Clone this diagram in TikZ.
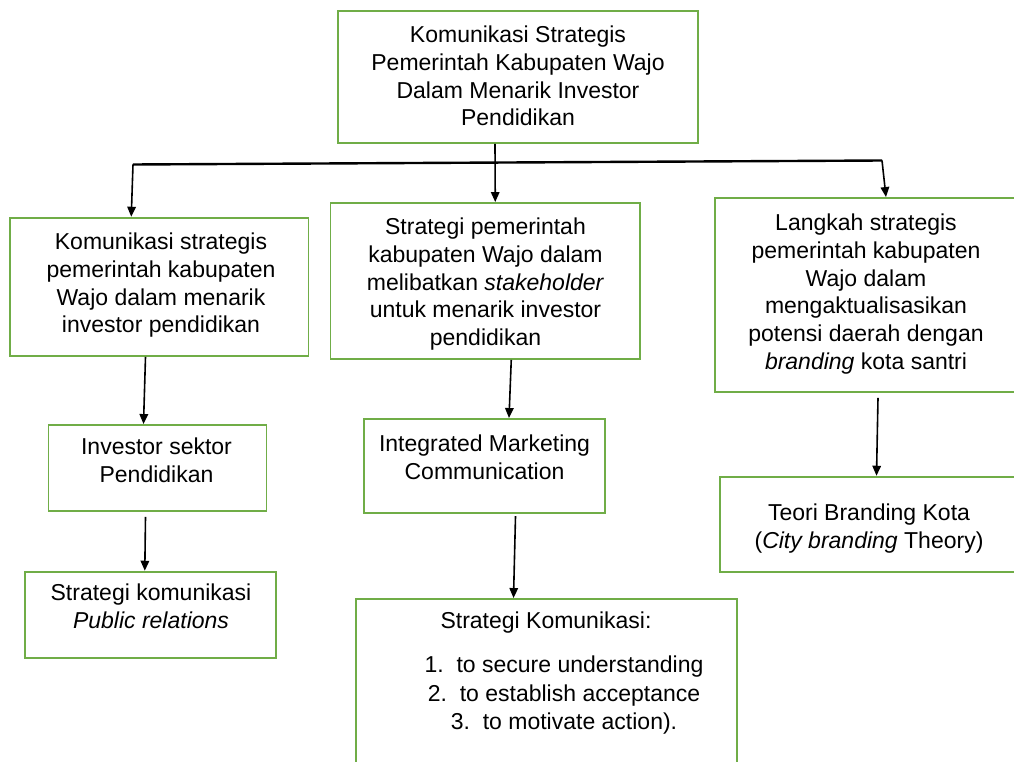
\documentclass[tikz,border=0pt]{standalone}
\usepackage{fontspec}
\setmainfont{Liberation Sans}
\usetikzlibrary{arrows.meta}
\definecolor{boxgreen}{RGB}{112,173,71}
\begin{document}
\begin{tikzpicture}[x=1pt,y=-1pt,
  box/.style={draw=boxgreen, line width=1.9pt, inner sep=0pt, rectangle},
  txt/.style={align=center, anchor=north, inner sep=0pt, font=\fontsize{23}{27.7}\selectfont},
  arr/.style={line width=1.6pt, -{Triangle[length=10pt,width=8.5pt]}},
  bar/.style={line width=2.4pt}]
\useasboundingbox (0,0) rectangle (1014,762);
\clip (0,0) rectangle (1014,762);
% boxes
\node[box, minimum width=360pt, minimum height=132pt] (top) at (518,77) {};
\node[box, minimum width=298.5pt, minimum height=138.3pt] (L1) at (159.25,286.85) {};
\node[box, minimum width=309.5pt, minimum height=156pt] (M1) at (485.25,281) {};
\node[box, minimum width=325pt, minimum height=194pt] (R1) at (877.5,295) {};
\node[box, minimum width=218pt, minimum height=86pt] (L2) at (157.5,468) {};
\node[box, minimum width=251.4pt, minimum height=86pt] (L3) at (150.3,614.7) {};
\node[box, minimum width=241pt, minimum height=93.7pt] (M2) at (484.5,465.85) {};
\node[box, minimum width=381pt, minimum height=176pt] (M3) at (546.5,687) {};
\node[box, minimum width=320pt, minimum height=95pt] (R2) at (880,524.2) {};
% texts
\node[txt] (ttop) at (518,26) {Komunikasi Strategis\\Pemerintah Kabupaten Wajo\\Dalam Menarik Investor\\Pendidikan};
\node[txt] (tL1) at (161,233) {Komunikasi strategis\\pemerintah kabupaten\\Wajo dalam menarik\\investor pendidikan};
\node[txt] (tM1) at (485.5,218) {Strategi pemerintah\\kabupaten Wajo dalam\\melibatkan \textit{stakeholder}\\untuk menarik investor\\pendidikan};
\node[txt] (tR1) at (866,214) {Langkah strategis\\pemerintah kabupaten\\Wajo dalam\\mengaktualisasikan\\potensi daerah dengan\\\textit{branding} kota santri};
\node[txt] (tL2) at (156.5,438) {Investor sektor\\Pendidikan};
\node[txt] (tL3) at (151,584) {Strategi komunikasi\\\textit{Public relations}};
\node[txt] (tM2) at (484.5,435) {Integrated Marketing\\Communication};
\node[txt] (tR2) at (869,504) {Teori Branding Kota\\(\textit{City branding} Theory)};
\node[txt] (tM3a) at (546,612) {Strategi Komunikasi:};
\node[txt] (tM3b) at (564,656) {1.\ \ to secure understanding\\[0.8pt]2.\ \ to establish acceptance\\[0.8pt]3.\ \ to motivate action).};
% connectors
\coordinate (hl) at (133,164.5);
\coordinate (hr) at (882,160.5);
\draw[bar] (hl) -- (hr);
\draw[arr] ([xshift=-23pt]top.south) -- ([xshift=10pt]M1.north);
\draw[arr] (hl) -- ([xshift=-28pt]L1.north);
\draw[arr] (hr) -- ([xshift=8.5pt]R1.north);
\draw[arr] ([xshift=-13.75pt]L1.south) -- ([xshift=-14pt]L2.north);
\draw[arr] ([xshift=-12pt,yshift=-5pt]L2.south) -- ([xshift=-5.5pt]L3.north);
\draw[arr] ([xshift=26pt]M1.south) -- ([xshift=24.5pt]M2.north);
\draw[arr] ([xshift=31pt,yshift=-2.5pt]M2.south) -- ([xshift=-33pt]M3.north);
\draw[arr] ([xshift=0.5pt,yshift=-5pt]R1.south) -- ([xshift=-3.5pt]R2.north);
\end{tikzpicture}
\end{document}
